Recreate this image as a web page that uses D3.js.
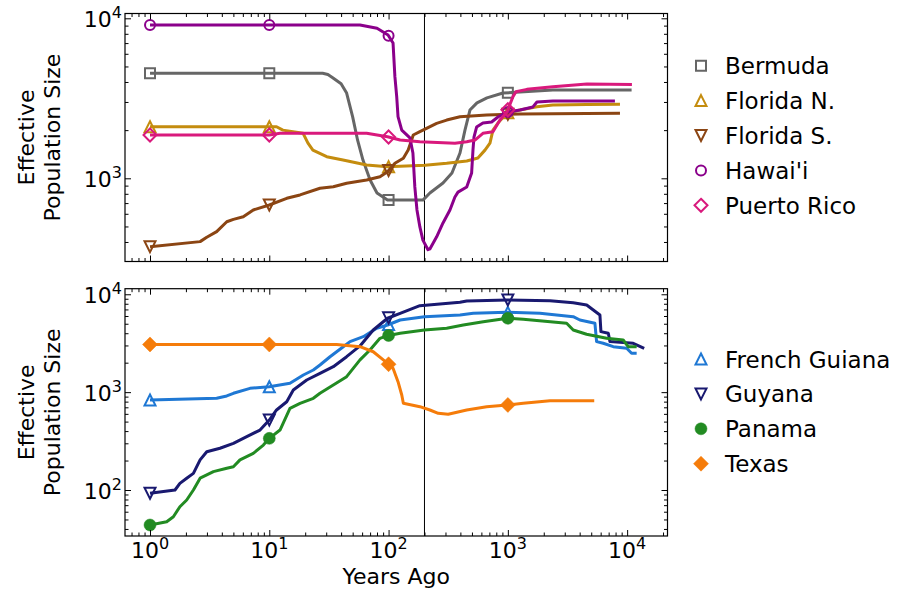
<!DOCTYPE html>
<html>
<head>
<meta charset="utf-8">
<script src="https://cdn.jsdelivr.net/npm/d3@7"></script>
<style>
  body { margin: 0; background: #fff; }
  svg { display: block; font-family: "DejaVu Sans", sans-serif; }
</style>
</head>
<body>
<svg id="chart" width="911" height="591"></svg>
<script>
// [years ago, effective population size]
var bermuda = [[1,4530],[28,4530],[31,4450],[34,4250],[40,3900],[44.5,3410],[50,2420],[55,1730],[61,1300],[70,975],[80,810],[98,731],[194,731],[222,809],[286,935],[340,1080],[397,1440],[437,2000],[481,2670],[551,2960],[668,3180],[910,3410],[1263,3460],[2386,3560],[10900,3560]];
var floridaN = [[1,2100],[11.5,2100],[13,2000],[15.8,1955],[19.2,1910],[21.1,1660],[23.2,1500],[30.3,1365],[41.5,1300],[65.5,1210],[98,1182],[202,1205],[307,1240],[452,1283],[561,1340],[643,1500],[708,1660],[750,2000],[826,2215],[983,2560],[1263,2670],[1753,2800],[2386,2870],[4600,2890],[8710,2900]];
var floridaS = [[1,374],[2.63,402],[2.99,428],[3.62,464],[4.4,535],[5,554],[6.05,575],[7.34,634],[10,681],[14,750],[18.1,787],[26.6,866],[34.4,886],[44.5,931],[65.5,975],[84.7,1023],[98,1099],[113,1241],[133,1334],[146,1503],[156,1734],[161,1865],[183,1955],[208,2053],[253,2206],[307,2312],[397,2427],[664,2488],[1263,2523],[8710,2548]];
var hawaii = [[1,9080],[57.6,9080],[80,8660],[99,7870],[109,7015],[113,4315],[117,3240],[120,2430],[129,2000],[151,1790],[160,1440],[166,883],[173,634],[183,497],[194,411],[214,358],[222,362],[253,431],[286,526],[327,634],[360,764],[382,820],[452,883],[497,1080],[510,1500],[520,1810],[547,2090],[618,2220],[731,2250],[826,2415],[983,2594],[1263,2673],[1623,2793],[1753,3000],[2386,3043],[7900,3043]];
var puertoRico = [[1,1865],[10,1865],[12.3,1910],[65.5,1910],[98,1820],[125,1734],[183,1693],[360,1655],[452,1693],[530,1734],[618,1910],[750,1955],[859,2312],[983,2594],[1104,3240],[1169,3475],[1445,3597],[2386,3737],[4600,3882],[10970,3855]];

var frenchGuiana = [[1,832],[3.62,865],[4.4,914],[5,973],[6.89,1094],[10,1137],[14.9,1231],[19.3,1497],[23.4,1684],[26.6,1895],[32.3,2300],[41.7,2914],[47.5,3283],[61.4,3690],[79.5,4490],[98,4853],[125,5460],[200,5902],[397,6140],[513,6390],[977,6545],[1858,6390],[3532,5902],[4018,5460],[5370,5054],[5545,3283],[6305,3158],[7650,2914],[9910,2806],[10900,2494],[12020,2494]];
var guyana = [[1,92.5],[1.62,100],[1.78,117],[2.03,132],[2.31,148],[2.63,203],[2.99,246],[3.86,267],[5,300],[6.47,351],[8.36,410],[10,519],[11.5,657],[14,798],[15.9,1052],[20.6,1330],[26.6,1558],[34.4,1820],[44.5,2303],[57.6,2966],[74.4,4312],[98,5690],[125,6390],[183,7640],[397,8280],[452,8550],[989,8750],[2255,8610],[3532,8210],[4580,7780],[5915,6140],[6030,4150],[6950,3991],[7180,3283],[11250,3158],[13900,2806]];
var panama = [[1,43.9],[1.38,47.4],[1.57,53.3],[1.78,67.5],[2.03,79],[2.31,100],[2.63,132],[3.4,154],[4.4,167],[5,173],[5.68,203],[7.34,237],[8.92,288],[10,337],[12.3,410],[14.9,684],[18.1,769],[23.4,865],[26.6,973],[34.4,1183],[44.5,1439],[57.6,2134],[69.8,2698],[84.7,3548],[98,3773],[125,3991],[200,4314],[307,4495],[423,4853],[622,5248],[995,5690],[1346,5551],[3110,5054],[3532,4314],[4570,3902],[6730,3548],[9270,3411],[10200,2914],[12020,2914]];
var texas = [[1,3070],[36.7,3070],[57.6,2914],[74.4,2588],[90.3,2133],[99.4,1941],[109,1754],[120,1280],[129,935],[133,769],[183,710],[222,657],[261,608],[316,594],[452,657],[664,710],[989,739],[1346,769],[2255,818],[5300,818]];

var markerTimes = [1, 10, 100, 1000];
var splitTime = 200;
var xMajor = [1, 10, 100, 1000, 10000];

var topSeries = [
  {name: "Bermuda", data: bermuda, color: "#666666", marker: "square", filled: false},
  {name: "Florida N.", data: floridaN, color: "#c48c0e", marker: "up", filled: false},
  {name: "Florida S.", data: floridaS, color: "#8b4513", marker: "down", filled: false},
  {name: "Hawai'i", data: hawaii, color: "#8b008b", marker: "circle", filled: false},
  {name: "Puerto Rico", data: puertoRico, color: "#d9197c", marker: "diamond", filled: false}
];
var bottomSeries = [
  {name: "French Guiana", data: frenchGuiana, color: "#1f78d4", marker: "up", filled: false},
  {name: "Guyana", data: guyana, color: "#191970", marker: "down", filled: false},
  {name: "Panama", data: panama, color: "#228b22", marker: "circle", filled: true},
  {name: "Texas", data: texas, color: "#f57c0a", marker: "diamond", filled: true}
];

var svg = d3.select("#chart");
var left = 125, right = 667.5;

var x = d3.scaleLog().domain([0.617, 21800]).range([left, right]);

function markerPath(type, filled) {
  var s;
  if (type == "square") { s = 5; return "M" + -s + "," + -s + "H" + s + "V" + s + "H" + -s + "Z"; }
  if (type == "up") { s = 5.5; return "M0," + -s + "L" + s + "," + s + "L" + -s + "," + s + "Z"; }
  if (type == "down") { s = 5.5; return "M0," + s + "L" + s + "," + -s + "L" + -s + "," + -s + "Z"; }
  if (type == "circle") { s = filled ? 6 : 5; return "M" + s + ",0A" + s + "," + s + " 0 1,1 " + -s + ",0A" + s + "," + s + " 0 1,1 " + s + ",0Z"; }
  s = filled ? 7.5 : 6.5;
  return "M0," + -s + "L" + s + ",0L0," + s + "L" + -s + ",0Z";
}

// log-log interpolation so markers sit on the curve
function valueAt(data, t) {
  for (var i = 1; i < data.length; i++) {
    if (data[i][0] >= t) {
      var a = data[i - 1], b = data[i];
      var f = (Math.log(t) - Math.log(a[0])) / (Math.log(b[0]) - Math.log(a[0]));
      return Math.exp(Math.log(a[1]) + f * (Math.log(b[1]) - Math.log(a[1])));
    }
  }
  return data[data.length - 1][1];
}

function minorTicks(lo, hi) {
  var out = [];
  for (var d = -2; d <= 5; d++) {
    for (var k = 2; k <= 9; k++) {
      var v = k * Math.pow(10, d);
      if (v > lo && v < hi) out.push(v);
    }
  }
  return out;
}

function powLabel(g, px, py, exp, anchor) {
  var t = g.append("text")
    .attr("x", px).attr("y", py)
    .attr("text-anchor", anchor)
    .attr("font-size", 22)
    .attr("fill", "#000");
  t.append("tspan").text("10");
  t.append("tspan").attr("dy", -9).attr("font-size", 16).text(exp);
}

function drawPanel(id, y, yMajor, series, showX, legendTop) {
  var g = svg.append("g").attr("id", id);
  var y0 = y.range()[0], y1 = y.range()[1];

  g.append("clipPath").attr("id", id + "-clip")
    .append("rect").attr("x", left).attr("y", y1).attr("width", right - left).attr("height", y0 - y1);

  // split marker at 200 years
  g.append("line")
    .attr("x1", x(splitTime)).attr("x2", x(splitTime))
    .attr("y1", y1).attr("y2", y0)
    .attr("stroke", "#000").attr("stroke-width", 1);

  var line = d3.line()
    .x(function(d) { return x(d[0]); })
    .y(function(d) { return y(d[1]); });

  var plot = g.append("g").attr("clip-path", "url(#" + id + "-clip)");
  series.forEach(function(s) {
    plot.append("path")
      .attr("d", line(s.data))
      .attr("fill", "none")
      .attr("stroke", s.color)
      .attr("stroke-width", 3)
      .attr("stroke-linejoin", "round");
    markerTimes.forEach(function(t) {
      plot.append("path")
        .attr("d", markerPath(s.marker, s.filled))
        .attr("transform", "translate(" + x(t) + "," + y(valueAt(s.data, t)) + ")")
        .attr("fill", s.filled ? s.color : "none")
        .attr("stroke", s.color)
        .attr("stroke-width", s.filled ? 0.5 : 2);
    });
  });

  // ticks on all four sides, pointing inwards
  var xMinor = minorTicks(x.domain()[0], x.domain()[1]);
  var yMinor = minorTicks(y.domain()[0], y.domain()[1]);
  function tickAxis(axis, tx, ty) {
    g.append("g").attr("transform", "translate(" + tx + "," + ty + ")")
      .call(axis)
      .call(function(a) { a.select(".domain").remove(); a.selectAll("text").remove(); a.selectAll("line").attr("stroke", "#000"); });
  }
  tickAxis(d3.axisBottom(x).tickValues(xMajor).tickSize(-6).tickFormat(""), 0, y0);
  tickAxis(d3.axisBottom(x).tickValues(xMinor).tickSize(-3.5).tickFormat(""), 0, y0);
  tickAxis(d3.axisTop(x).tickValues(xMajor).tickSize(-6).tickFormat(""), 0, y1);
  tickAxis(d3.axisTop(x).tickValues(xMinor).tickSize(-3.5).tickFormat(""), 0, y1);
  tickAxis(d3.axisLeft(y).tickValues(yMajor).tickSize(-6).tickFormat(""), left, 0);
  tickAxis(d3.axisLeft(y).tickValues(yMinor).tickSize(-3.5).tickFormat(""), left, 0);
  tickAxis(d3.axisRight(y).tickValues(yMajor).tickSize(-6).tickFormat(""), right, 0);
  tickAxis(d3.axisRight(y).tickValues(yMinor).tickSize(-3.5).tickFormat(""), right, 0);

  g.append("rect")
    .attr("x", left).attr("y", y1)
    .attr("width", right - left).attr("height", y0 - y1)
    .attr("fill", "none").attr("stroke", "#000").attr("stroke-width", 1.2);

  yMajor.forEach(function(v) {
    powLabel(g, left - 3, y(v) + 9, Math.round(Math.log10(v)), "end");
  });
  if (showX) {
    xMajor.forEach(function(v) {
      powLabel(g, x(v), y0 + 22, Math.round(Math.log10(v)), "middle");
    });
  }

  var cy = (y0 + y1) / 2;
  var lab = g.append("text")
    .attr("transform", "translate(0," + cy + ") rotate(-90)")
    .attr("text-anchor", "middle")
    .attr("font-size", 22)
    .attr("fill", "#000");
  lab.append("tspan").attr("x", 0).attr("y", 34).text("Effective");
  lab.append("tspan").attr("x", 0).attr("y", 60).text("Population Size");

  // legend
  var leg = g.append("g");
  series.forEach(function(s, i) {
    var ry = legendTop + i * 34.9;
    leg.append("path")
      .attr("d", markerPath(s.marker, s.filled))
      .attr("transform", "translate(701," + ry + ")")
      .attr("fill", s.filled ? s.color : "none")
      .attr("stroke", s.color)
      .attr("stroke-width", s.filled ? 0.5 : 2);
    leg.append("text")
      .attr("x", 725).attr("y", ry + 8.5)
      .attr("font-size", 23)
      .attr("fill", "#000")
      .text(s.name);
  });
}

var yTop = d3.scaleLog().domain([Math.pow(10, 2.48), Math.pow(10, 4.03)]).range([261.5, 13.5]);
var yBot = d3.scaleLog().domain([Math.pow(10, 1.53), Math.pow(10, 4.057)]).range([536, 288.7]);

drawPanel("top", yTop, [1000, 10000], topSeries, false, 65.7);
drawPanel("bottom", yBot, [100, 1000, 10000], bottomSeries, true, 359);

svg.append("text")
  .attr("x", (left + right) / 2).attr("y", 584)
  .attr("text-anchor", "middle")
  .attr("font-size", 22)
  .attr("fill", "#000")
  .text("Years Ago");
</script>
</body>
</html>
